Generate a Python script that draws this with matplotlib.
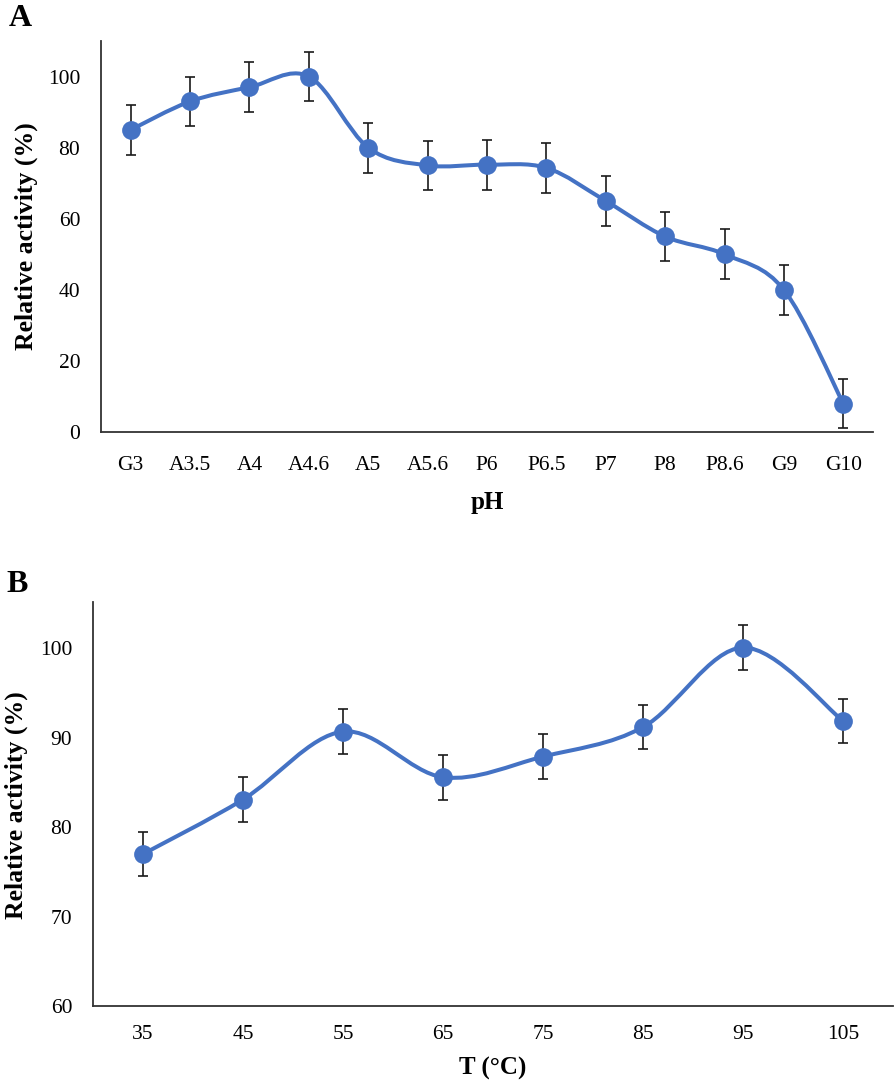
import matplotlib
matplotlib.use("Agg")
import matplotlib.pyplot as plt
from matplotlib.path import Path
from matplotlib.patches import PathPatch
import numpy as np

# ---------------- data ----------------
ph_labels = ["G3", "A3.5", "A4", "A4.6", "A5", "A5.6", "P6", "P6.5", "P7", "P8", "P8.6", "G9", "G10"]
ph_activity = [85, 93, 97, 100, 80, 75, 75.2, 74.3, 65, 55, 50, 40, 8]
ph_error = [7, 7, 7, 7, 7, 7, 7, 7, 7, 7, 7, 7, 7]

temp_labels = ["35", "45", "55", "65", "75", "85", "95", "105"]
temp_values = [35, 45, 55, 65, 75, 85, 95, 105]
temp_activity = [77.0, 83.1, 90.7, 85.6, 87.9, 91.2, 100.1, 91.9]
temp_error = [2.5, 2.5, 2.5, 2.5, 2.5, 2.5, 2.5, 2.5]

BLUE = "#4472C4"
SERIF = ["Liberation Serif", "DejaVu Serif"]
plt.rcParams["font.family"] = SERIF


def smooth_path(x, y):
    """Excel-style smoothed line: cubic Bezier segments (Catmull-Rom control points)."""
    pts = np.column_stack([x, y]).astype(float)
    n = len(pts)
    verts = [pts[0]]
    codes = [Path.MOVETO]
    for i in range(n - 1):
        p0 = pts[i - 1] if i > 0 else pts[i]
        p1 = pts[i]
        p2 = pts[i + 1]
        p3 = pts[i + 2] if i + 2 < n else pts[i + 1]
        c1 = p1 + (p2 - p0) / 6.0
        c2 = p2 - (p3 - p1) / 6.0
        verts += [c1, c2, p2]
        codes += [Path.CURVE4] * 3
    return Path(verts, codes)


def style_axes(ax, xpad):
    for s in ["top", "right"]:
        ax.spines[s].set_visible(False)
    for s in ["left", "bottom"]:
        ax.spines[s].set_linewidth(1.3)
        ax.spines[s].set_color("#333333")
    ax.tick_params(axis="both", length=0, labelsize=15.5, colors="black")
    ax.tick_params(axis="y", pad=15)
    ax.tick_params(axis="x", pad=xpad)


fig = plt.figure(figsize=(8.96, 10.84), dpi=100)
W, H = 896, 1084

# ---------------- panel A ----------------
axA = fig.add_axes([101 / W, 1 - 432 / H, (873 - 101) / W, (432 - 41) / H])
xa = np.arange(len(ph_labels))
axA.add_patch(PathPatch(smooth_path(xa, ph_activity), facecolor="none",
                        edgecolor=BLUE, lw=2.9, zorder=2, capstyle="round"))
axA.errorbar(xa, ph_activity, yerr=ph_error, fmt="none", ecolor="#1a1a1a",
             elinewidth=1.2, capsize=3.4, capthick=1.2, zorder=3)
axA.plot(xa, ph_activity, "o", color=BLUE, markersize=13.5, zorder=4, markeredgewidth=0)
axA.set_xlim(-0.5, len(ph_labels) - 0.5)
axA.set_ylim(0, 110)
axA.set_yticks([0, 20, 40, 60, 80, 100])
axA.set_xticks(xa)
axA.set_xticklabels(ph_labels)
style_axes(axA, 17)
axA.set_xlabel("pH", fontsize=18, fontweight="bold", labelpad=12)
fig.text(26 / W, 1 - 236 / H, "Relative activity (%)", fontsize=18.5, fontweight="bold",
         rotation=90, ha="center", va="center")
fig.text(9 / W, 1 - 18 / H, "A", fontsize=23, fontweight="bold", va="center", ha="left")

# ---------------- panel B ----------------
axB = fig.add_axes([93 / W, 1 - 1006 / H, (893 - 93) / W, (1006 - 602) / H])
axB.add_patch(PathPatch(smooth_path(temp_values, temp_activity), facecolor="none",
                        edgecolor=BLUE, lw=2.9, zorder=2, capstyle="round"))
axB.errorbar(temp_values, temp_activity, yerr=temp_error, fmt="none", ecolor="#1a1a1a",
             elinewidth=1.2, capsize=3.4, capthick=1.2, zorder=3)
axB.plot(temp_values, temp_activity, "o", color=BLUE, markersize=13.5, zorder=4, markeredgewidth=0)
axB.set_xlim(30, 110)
axB.set_ylim(60, 105.2)
axB.set_yticks([60, 70, 80, 90, 100])
axB.set_xticks(temp_values)
axB.set_xticklabels(temp_labels)
style_axes(axB, 14)
axB.set_xlabel("T (°C)", fontsize=18, fontweight="bold", labelpad=9)
fig.text(16 / W, 1 - 805 / H, "Relative activity (%)", fontsize=18.5, fontweight="bold",
         rotation=90, ha="center", va="center")
fig.text(6 / W, 1 - 585 / H, "B", fontsize=23, fontweight="bold", va="center", ha="left")

fig.savefig("out.png", dpi=100)
